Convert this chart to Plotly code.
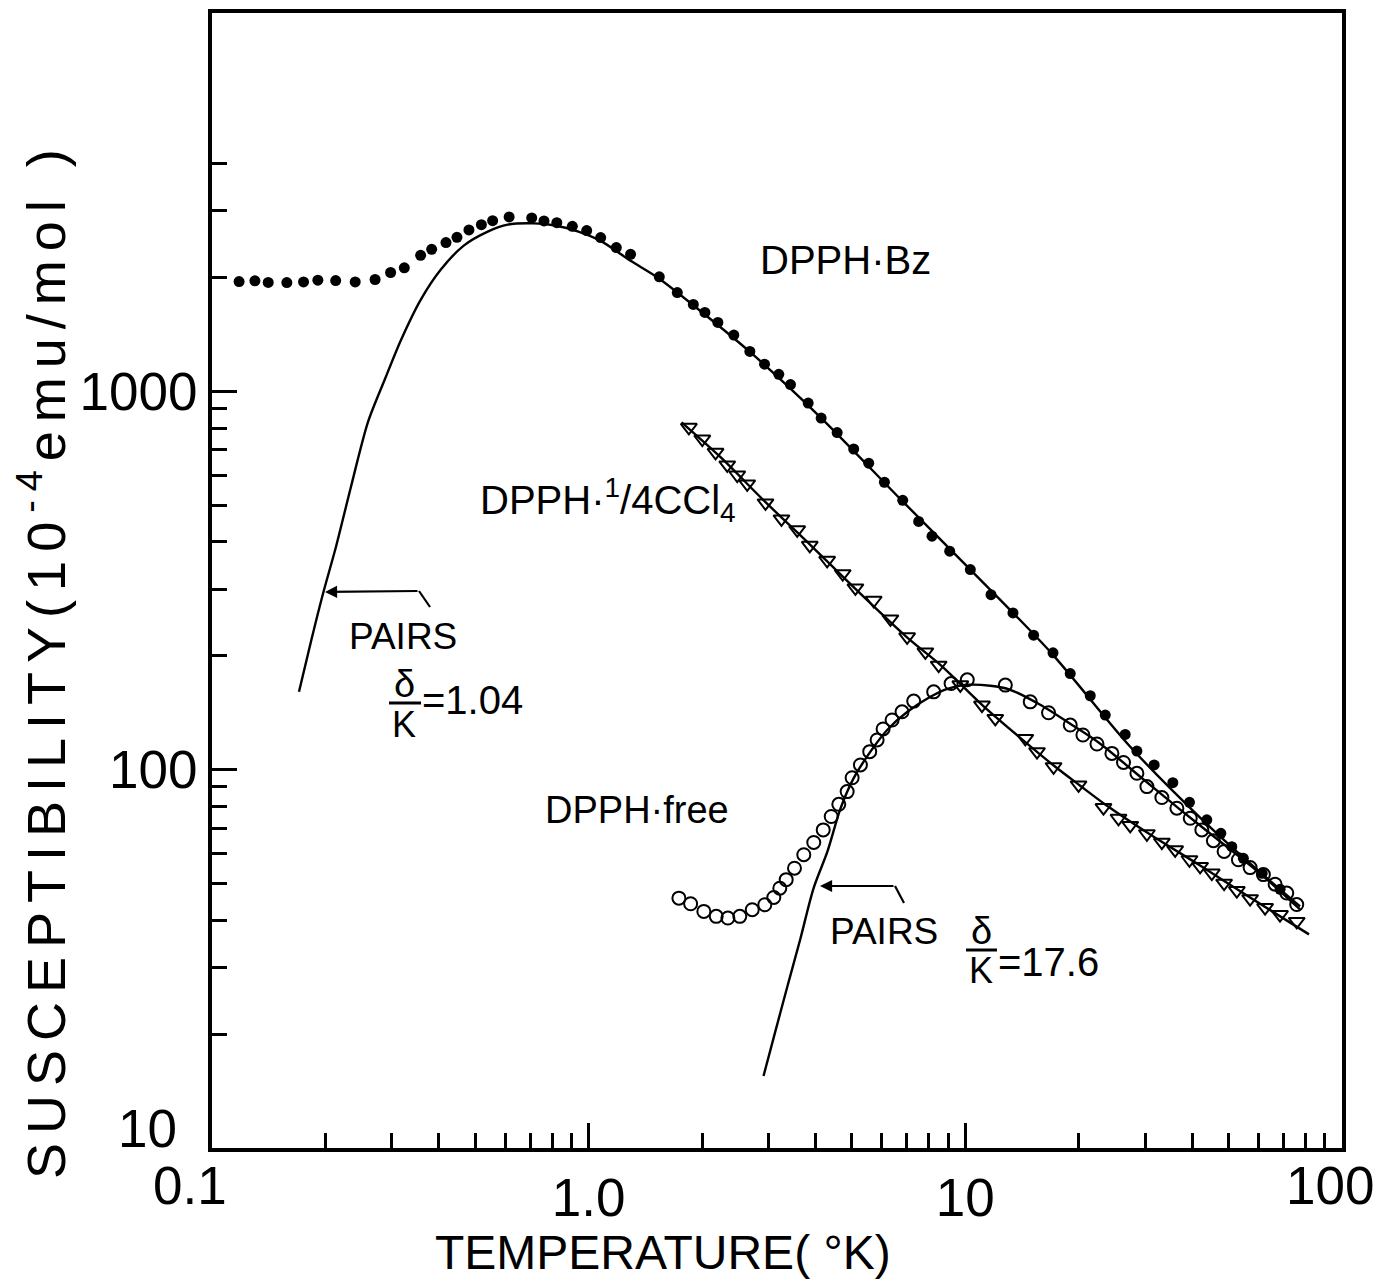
import plotly.graph_objects as go

# ---------------- data ----------------
# DPPH.Bz  (filled dots)
bz_T = [0.118, 0.130, 0.141, 0.158, 0.175, 0.191, 0.213, 0.240, 0.271, 0.298,
        0.324, 0.358, 0.383, 0.418, 0.447, 0.481, 0.519, 0.556, 0.615, 0.706,
        0.761, 0.823, 0.905, 0.988, 1.076, 1.184, 1.292, 1.540, 1.719, 1.896,
        2.035, 2.203, 2.429, 2.679, 2.930, 3.197, 3.434, 3.826, 4.142, 4.568,
        5.054, 5.540, 6.098, 6.820, 7.518, 8.157, 9.088, 10.31, 11.70, 13.38,
        15.18, 17.09, 18.99, 21.46, 23.52, 26.57, 28.54, 31.72, 35.55, 39.36,
        43.76, 47.68, 50.98, 54.72, 61.4, 68.5]
bz_chi = [1950, 1959, 1940, 1938, 1946, 1967, 1962, 1946, 1975, 2061,
          2121, 2288, 2374, 2473, 2554, 2671, 2758, 2826, 2891, 2873,
          2821, 2792, 2730, 2660, 2549, 2399, 2303, 2007, 1824, 1697,
          1616, 1521, 1408, 1275, 1180, 1109, 1042, 931, 850, 778,
          704, 646, 575, 515, 453, 414, 378, 338, 290, 259.5,
          226.7, 203.6, 179.5, 156.8, 139.4, 123.9, 112.0, 102.9, 92.4, 82.0,
          73.7, 67.9, 62.6, 58.3, 53.2, 48.3]

# DPPH.1/4CCl4 (open triangles)
ccl4_T = [1.845, 2.003, 2.172, 2.333, 2.480, 2.636, 2.948, 3.250, 3.578, 3.864,
          4.297, 4.726, 5.107, 5.711, 6.326, 7.006, 7.832, 8.496, 9.698, 11.07,
          12.01, 14.43, 15.50, 17.15, 19.98, 23.27, 25.51, 27.40, 30.34, 33.25,
          36.06, 39.36, 42.01, 45.11, 48.64, 52.57, 57.02, 62.49, 68.46, 75.83]
ccl4_chi = [803.5, 748, 690, 639, 601, 569, 507, 460, 430.5, 391.6,
            357.5, 329.6, 302.2, 280.4, 250.2, 224.4, 204.8, 188.9, 167.6, 148.2,
            136.6, 120.9, 111.6, 101.8, 91.1, 79.4, 74.4, 71.2, 67.7, 64.3,
            61.4, 57.8, 55.5, 53.3, 50.1, 47.9, 45.6, 43.2, 41.4, 39.7]

# DPPH.free (open circles)
free_T = [1.736, 1.865, 2.022, 2.181, 2.342, 2.519, 2.718, 2.935, 3.101, 3.217,
          3.345, 3.519, 3.725, 3.959, 4.195, 4.405, 4.614, 4.856, 5.006, 5.266,
          5.574, 5.832, 6.049, 6.391, 6.792, 7.293, 8.240, 9.166, 10.12, 12.77,
          14.87, 16.63, 18.99, 20.52, 22.36, 24.50, 26.30, 28.54, 30.34, 33.25,
          36.44, 39.54, 42.45, 45.56, 48.64, 53.09, 57.02, 61.84, 66.43, 71.34,
          75.83]
free_chi = [45.75, 44.22, 42.2, 40.95, 40.53, 40.95, 42.65, 43.95, 45.94, 48.6,
            51.2, 54.9, 59.6, 64.2, 69.3, 75.2, 81.0, 87.5, 95.2, 102.9,
            111.6, 119.8, 128.1, 135.3, 142.2, 151.8, 160.6, 168.9, 172.8, 167.3,
            151.1, 141.4, 131.2, 123.5, 116.9, 110.4, 104.5, 97.8, 90.2, 84.4,
            79.1, 74.4, 69.3, 64.9, 60.8, 57.8, 55.1, 52.8, 49.8, 47.2,
            44.0]

# theoretical curves
bz_fit_T = [0.1702, 0.1830, 0.1970, 0.2133, 0.2337, 0.2593, 0.2877, 0.3171, 0.3584, 0.4051,
            0.4660, 0.5396, 0.6098, 0.7148, 0.8076, 0.9350, 1.076, 1.292, 1.524, 1.899,
            2.690, 4.125, 6.725, 10.31, 16.81, 27.4, 42.0, 57.0, 77.4]
bz_fit_chi = [160.6, 217.6, 291.3, 387.6, 558, 828, 1076, 1363, 1748, 2099,
              2428, 2644, 2758, 2780, 2747, 2648, 2498, 2213, 1999, 1686,
              1267, 854, 519, 338, 204.8, 115, 74.7, 56.5, 43.5]

ccl4_fit_T = [1.765, 2.239, 2.948, 3.881, 5.107, 6.976, 8.584, 9.698, 11.30, 13.99,
              17.33, 20.18, 23.52, 30.96, 42.01, 57.02, 81.74]
ccl4_fit_chi = [828, 669.8, 509.4, 392.3, 300.4, 224.4, 189.2, 168.6, 145.7, 121.4,
                101.8, 90.7, 80.9, 67.4, 55.8, 45.9, 36.7]

free_fit_T = [2.912, 3.133, 3.372, 3.650, 3.952, 4.305, 4.661, 5.045, 5.598, 6.211,
              7.019, 8.075, 8.958, 10.12, 11.65, 13.16, 15.81, 18.99, 22.81, 29.13,
              37.18, 47.48, 60.59, 77.38]
free_fit_chi = [15.5, 20.4, 26.8, 35.8, 48.5, 60.8, 78.9, 94.7, 111.6, 127.5,
                142.2, 155.8, 163.6, 167.6, 166.6, 162.6, 148.4, 132.2, 117.1, 95.8,
                78.4, 64.6, 53.2, 42.7]

x_major = [1, 10]
x_major_text = ["1.0", "10"]
x_minor = [0.2, 0.3, 0.4, 0.5, 0.6, 0.7, 0.8, 0.9,
           2, 3, 4, 5, 6, 7, 8, 9,
           20, 30, 40, 50, 60, 70, 80, 90]
y_major = [100, 1000]
y_major_text = ["100", "1000"]
y_minor = [20, 30, 40, 50, 60, 70, 80, 90,
           200, 300, 400, 500, 600, 700, 800, 900,
           2000, 3000, 4000]

# ---------------- layout helpers ----------------
FONT = "Liberation Sans, Arial, Helvetica, sans-serif"
W, H = 1385, 1283
PAGE_OFFSET = 8                      # default body margin of the html page
L, R, T, B = 212, 1342, 13, 1148     # plot-area edges as seen in the screenshot


def px(xp):
    return (xp - L) / (R - L)


def py(yp):
    return (B - yp) / (B - T)


fig = go.Figure()

line_style = dict(color="black", width=2.4, shape="spline", smoothing=0.8)
fig.add_trace(go.Scatter(x=bz_fit_T, y=bz_fit_chi, mode="lines", line=line_style))
fig.add_trace(go.Scatter(x=ccl4_fit_T, y=ccl4_fit_chi, mode="lines", line=line_style))
fig.add_trace(go.Scatter(x=free_fit_T, y=free_fit_chi, mode="lines", line=line_style))

fig.add_trace(go.Scatter(x=bz_T, y=bz_chi, mode="markers",
                         marker=dict(symbol="circle", size=11, color="black")))
fig.add_trace(go.Scatter(x=ccl4_T, y=ccl4_chi, mode="markers",
                         marker=dict(symbol="triangle-down-open", size=14, color="black",
                                     line=dict(width=2, color="black"))))
fig.add_trace(go.Scatter(x=free_T, y=free_chi, mode="markers",
                         marker=dict(symbol="circle-open", size=13, color="black",
                                     line=dict(width=2, color="black"))))

annotations = []


def txt(text, xp, yp, size, xanchor="center", yanchor="middle", angle=0):
    annotations.append(dict(text=text, x=px(xp), y=py(yp), xref="paper", yref="paper",
                            xanchor=xanchor, yanchor=yanchor, showarrow=False,
                            textangle=angle,
                            font=dict(family=FONT, size=size, color="black")))


# axis titles
txt('<span style="letter-spacing:9px">SUSCEPTIBILITY(10<sup>-4</sup>emu/mol )</span>',
    42, 660, 54, angle=-90)
txt("TEMPERATURE( °K)", 663, 1252, 48)
# corner tick labels
txt("0.1", 190, 1185, 53)
txt("100", 1330, 1185, 53)
txt("10", 147, 1128, 53)

# curve labels
txt("DPPH·Bz", 845, 260, 40)
txt("DPPH·<sup>1</sup>/4CCl<sub>4</sub>", 478, 500, 40, xanchor="left")
txt("DPPH·free", 543, 810, 38, xanchor="left")

# PAIRS 1
txt("PAIRS", 347, 636, 37, xanchor="left")
txt("δ", 404, 684, 38)
txt("K", 404, 724, 36)
txt("=1.04", 420, 700, 40, xanchor="left")
# PAIRS 2
txt("PAIRS", 828, 931, 37, xanchor="left")
txt("δ", 981, 931, 38)
txt("K", 981, 971, 36)
txt("=17.6", 996, 962, 40, xanchor="left")

# arrows
for head, tail in [((325, 592), (419, 591)), ((820, 886), (895, 886))]:
    annotations.append(dict(text="", x=px(head[0]), y=py(head[1]), xref="paper", yref="paper",
                            ax=tail[0] - head[0], ay=tail[1] - head[1],
                            showarrow=True, arrowhead=2, arrowsize=1.1, arrowwidth=2.2,
                            arrowcolor="black", standoff=0, startstandoff=0))

shapes = []
for (x0, y0, x1, y1, w) in [(430, 607, 419, 591, 2.2), (904, 903, 895, 886, 2.2),
                            (389, 703, 421, 703, 3), (966, 950, 997, 950, 3)]:
    shapes.append(dict(type="line", xref="paper", yref="paper",
                       x0=px(x0), y0=py(y0), x1=px(x1), y1=py(y1),
                       line=dict(color="black", width=w)))

fig.update_layout(
    width=W, height=H,
    margin=dict(l=L - PAGE_OFFSET, r=W - (R - PAGE_OFFSET),
                t=T - PAGE_OFFSET, b=H - (B - PAGE_OFFSET), autoexpand=False),
    paper_bgcolor="white", plot_bgcolor="white",
    showlegend=False,
    annotations=annotations,
    shapes=shapes,
    font=dict(family=FONT, color="black"),
)

fig.update_xaxes(
    type="log", range=[-1, 2], automargin=False,
    tickmode="array", tickvals=x_major, ticktext=x_major_text,
    ticks="inside", ticklen=25, tickwidth=3, tickcolor="black",
    minor=dict(tickmode="array", tickvals=x_minor, ticks="inside",
               ticklen=15, tickwidth=3, tickcolor="black", showgrid=False),
    showline=True, linewidth=4, linecolor="black", mirror=True,
    showgrid=False, zeroline=False,
    tickfont=dict(family=FONT, size=53, color="black"),
)
fig.update_yaxes(
    type="log", range=[1, 4], automargin=False,
    tickmode="array", tickvals=y_major, ticktext=y_major_text,
    ticks="inside", ticklen=25, tickwidth=3, tickcolor="black",
    minor=dict(tickmode="array", tickvals=y_minor, ticks="inside",
               ticklen=15, tickwidth=3, tickcolor="black", showgrid=False),
    showline=True, linewidth=4, linecolor="black", mirror=True,
    showgrid=False, zeroline=False,
    tickfont=dict(family=FONT, size=53, color="black"),
)

fig.write_html("out.html")
